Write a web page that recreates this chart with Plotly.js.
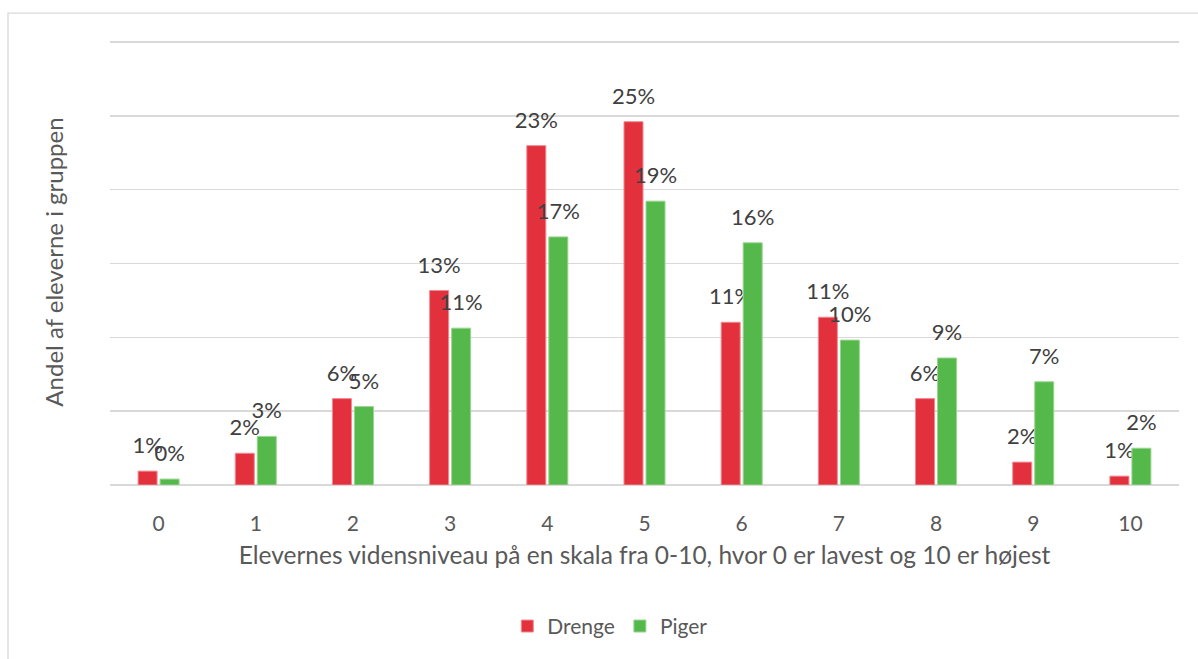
<!DOCTYPE html>
<html>
<head>
<meta charset="utf-8">
<script src="https://cdn.plot.ly/plotly-3.0.1.min.js"></script>
<style>html,body{margin:0;padding:0;background:#fff;}#chart{width:1198px;height:659px;}</style>
</head>
<body>
<div id="chart"></div>
<script>
// ---- data ----
const categories = ['0','1','2','3','4','5','6','7','8','9','10'];
const drenge = [0.94, 2.15, 5.85, 13.17, 22.98, 24.6, 11.02, 11.36, 5.85, 1.55, 0.6];
const piger  = [0.40, 3.29, 5.31, 10.62, 16.80, 19.22, 16.40, 9.81, 8.60, 6.99, 2.49];
const seriesNames = ['Drenge', 'Piger'];
const xTitle = 'Elevernes vidensniveau på en skala fra 0-10, hvor 0 er lavest og 10 er højest';
const yTitle = 'Andel af eleverne i gruppen';

const FONT = 'Lato, "Open Sans", sans-serif';
const labelTpl = '<span style="font-size:22px">%{y:.0f}%</span><br>&nbsp;';

function barTrace(name, values, color, edge) {
  return {
    type: 'bar', name: name, x: categories, y: values,
    marker: {color: color, line: {color: edge, width: 1}},
    texttemplate: labelTpl, textposition: 'outside',
    textfont: {family: FONT, size: 10, color: '#404040'},
    constraintext: 'none', textangle: 0, cliponaxis: false,
    hoverinfo: 'x+y'
  };
}

const data = [
  barTrace(seriesNames[0], drenge, '#E3303D', '#F08A92'),
  barTrace(seriesNames[1], piger, '#55B84A', '#9AD592')
];

const layout = {
  width: 1198, height: 659,
  margin: {l: 110, r: 19, t: 39, b: 171, pad: 0},
  paper_bgcolor: '#fff', plot_bgcolor: '#fff',
  font: {family: FONT, color: '#595959', size: 20},
  barmode: 'group', bargap: 0.547, bargroupgap: 0.136,
  showlegend: true,
  legend: {orientation: 'h', x: 0.468, xanchor: 'center', y: -0.317, yanchor: 'middle',
           font: {size: 21, color: '#595959'}, itemwidth: 30, traceorder: 'normal'},
  xaxis: {
    type: 'category', automargin: false,
    showgrid: false, showline: false, zeroline: false,
    ticks: 'outside', ticklen: 20, tickcolor: 'rgba(0,0,0,0)',
    tickfont: {size: 21, color: '#595959'},
    title: {text: xTitle, font: {size: 24.5, color: '#595959'}, standoff: 12}
  },
  yaxis: {
    range: [0, 30.2], tick0: 0, dtick: 5, automargin: false,
    showticklabels: false, ticks: '',
    showgrid: true, gridcolor: '#d9d9d9', gridwidth: 1.6,
    zeroline: true, zerolinecolor: '#d9d9d9', zerolinewidth: 1.6,
    title: {text: yTitle, font: {size: 24, color: '#595959'}, standoff: 38}
  },
  shapes: [{
    type: 'rect', xref: 'paper', yref: 'paper', layer: 'below',
    x0: (8 - 110) / 1069, x1: (1215 - 110) / 1069,
    y0: (488 - 680) / 449, y1: (488 - 13) / 449,
    line: {color: '#d9d9d9', width: 1.3}, fillcolor: 'rgba(0,0,0,0)'
  }]
};

Plotly.newPlot('chart', data, layout, {staticPlot: true, displayModeBar: false});
</script>
</body>
</html>
